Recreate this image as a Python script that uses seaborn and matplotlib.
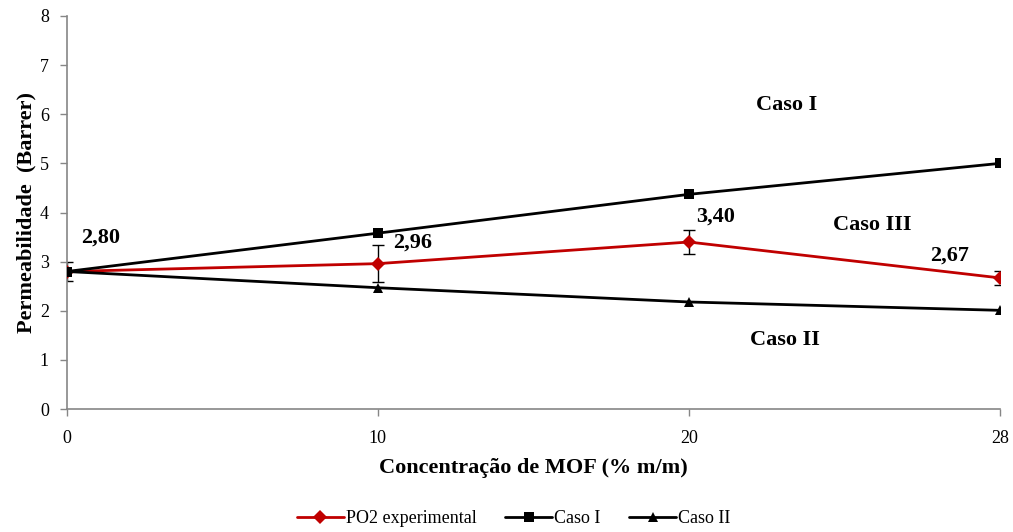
import matplotlib
matplotlib.use("Agg")
import matplotlib.pyplot as plt
import seaborn as sns
import pandas as pd

# Data
concentracao = ["0", "10", "20", "28"]
po2_experimental = [2.80, 2.96, 3.40, 2.67]
po2_erro = [0.20, 0.37, 0.25, 0.15]
caso_i = [2.80, 3.58, 4.37, 5.00]
caso_ii = [2.80, 2.47, 2.18, 2.01]
rotulos_valores = ["2,80", "2,96", "3,40", "2,67"]

sns.set_theme(style="white")
plt.rcParams["font.family"] = ["Liberation Serif", "DejaVu Serif"]
plt.rcParams["text.color"] = "#000000"
plt.rcParams["axes.labelcolor"] = "#000000"
plt.rcParams["xtick.color"] = "#000000"
plt.rcParams["ytick.color"] = "#000000"

pos = list(range(len(concentracao)))
df = pd.DataFrame({
    "pos": pos * 3,
    "valor": po2_experimental + caso_i + caso_ii,
    "serie": ["PO2 experimental"] * 4 + ["Caso I"] * 4 + ["Caso II"] * 4,
})

fig = plt.figure(figsize=(10.13, 5.32), dpi=100)
ax = fig.add_axes([0.066, 0.231, 0.921, 0.739])

cores = {"PO2 experimental": "#C00000", "Caso I": "#000000", "Caso II": "#000000"}
marcadores = {"PO2 experimental": "D", "Caso I": "s", "Caso II": "^"}

ax.errorbar(pos, po2_experimental, yerr=po2_erro, fmt="none", ecolor="#000000",
            elinewidth=1.0, capsize=4, capthick=1.0, zorder=2)

sns.lineplot(data=df, x="pos", y="valor", hue="serie", style="serie",
             palette=cores, markers=marcadores, dashes=False, linewidth=2,
             markersize=7, markeredgewidth=0, ax=ax, legend=True, zorder=3)

for x, y, t in zip(pos, po2_experimental, rotulos_valores):
    off = {0: (10, 17), 1: (11, 8), 2: (5, 11), 3: (-50, 9)}[x]
    ax.annotate(t, (x, y), xytext=off, textcoords="offset points",
                fontsize=16, fontweight="bold", ha="left", va="bottom")

ax.text(2.315, 6.19, "Caso I", fontsize=16, fontweight="bold", ha="center", va="center")
ax.text(2.59, 3.75, "Caso III", fontsize=16, fontweight="bold", ha="center", va="center")
ax.text(2.31, 1.41, "Caso II", fontsize=16, fontweight="bold", ha="center", va="center")

ax.set_xlim(0, 3)
ax.set_ylim(0, 8)
ax.set_xticks(pos)
ax.set_xticklabels(concentracao)
ax.set_yticks(range(0, 9))
ax.tick_params(axis="both", labelsize=13, direction="out", length=5, width=1,
               color="#868686", left=True, bottom=True)
ax.tick_params(axis="x", pad=10)
ax.tick_params(axis="y", pad=8)
for lado in ["top", "right"]:
    ax.spines[lado].set_visible(False)
for lado in ["left", "bottom"]:
    ax.spines[lado].set_color("#868686")
    ax.spines[lado].set_linewidth(1.2)

ax.set_xlabel("Concentração de MOF (% m/m)", fontsize=16, fontweight="bold", labelpad=8)
ax.set_ylabel("Permeabilidade  (Barrer)", fontsize=16, fontweight="bold", labelpad=2)

handles, labels = ax.get_legend_handles_labels()
ax.get_legend().remove()
fig.legend(handles, labels, loc="center", bbox_to_anchor=(0.507, 0.025),
           ncol=3, frameon=False, fontsize=13, handlelength=2.6,
           columnspacing=1.6, handletextpad=0.1)

fig.savefig("out.png", dpi=100)
